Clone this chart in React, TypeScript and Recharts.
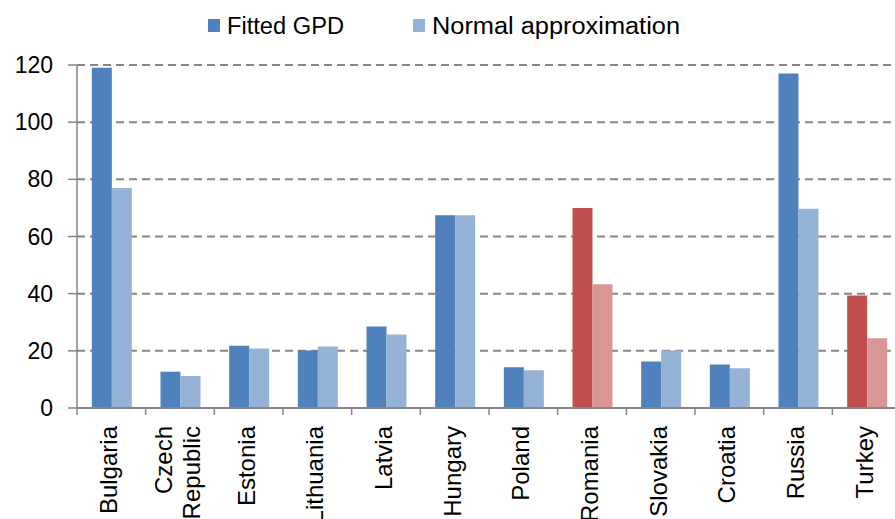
import { BarChart, Bar, XAxis, YAxis, CartesianGrid, Legend, Cell } from 'recharts';

const countries = [
  'Bulgaria', 'Czech Republic', 'Estonia', 'Lithuania', 'Latvia', 'Hungary',
  'Poland', 'Romania', 'Slovakia', 'Croatia', 'Russia', 'Turkey',
];
const fittedGpd = [119, 12.7, 21.8, 20.1, 28.5, 67.4, 14.3, 70, 16.3, 15.2, 117, 39.4];
const normalApprox = [77, 11.2, 20.8, 21.5, 25.7, 67.4, 13.2, 43.3, 20.1, 13.9, 69.7, 24.4];
const highlighted = ['Romania', 'Turkey'];
const yTicks = [0, 20, 40, 60, 80, 100, 120];

const COLORS = {
  fitted: '#4f81bd',
  normal: '#95b3d7',
  fittedHi: '#c0504d',
  normalHi: '#d99694',
  axis: '#868686',
};

const FONT = '"Liberation Sans", Arial, sans-serif';
const CHART_W = 905;
const CHART_H = 519;
const Y_AXIS_W = 77;
const MARGIN = { top: 21, right: 4, left: 0, bottom: 0 };
const BAND = (CHART_W - Y_AXIS_W - MARGIN.right) / countries.length;

const data = countries.map((c, i) => ({
  country: c,
  fitted: fittedGpd[i],
  normal: normalApprox[i],
}));

// category labels are rotated; tick marks sit on the category boundaries
function CountryTick(props: any) {
  const { x, y, payload } = props;
  const lines = String(payload.value).split(' ');
  const top = y + 18;
  return (
    <g>
      <line x1={x - BAND / 2} x2={x - BAND / 2} y1={y} y2={y + 7} stroke={COLORS.axis} strokeWidth={1.5} />
      {lines.map((ln, i) => {
        const bx = x + 6 + (i - (lines.length - 1) / 2) * 28;
        return (
          <text
            key={ln}
            x={bx}
            y={top}
            transform={`rotate(-90 ${bx} ${top})`}
            textAnchor="end"
            fontSize={24}
            fontFamily={FONT}
            fill="#000"
          >
            {ln}
          </text>
        );
      })}
    </g>
  );
}

function ChartLegend() {
  const items = [
    { label: 'Fitted GPD', color: COLORS.fitted, x: 208, len: 117 },
    { label: 'Normal approximation', color: COLORS.normal, x: 413, len: 248 },
  ];
  return (
    <svg width={CHART_W} height={44} style={{ display: 'block' }}>
      {items.map((it) => (
        <g key={it.label}>
          <rect x={it.x} y={19} width={12} height={13} fill={it.color} />
          <text
            x={it.x + 19}
            y={34}
            fontSize={23}
            fontFamily={FONT}
            fill="#000"
            textLength={it.len}
            lengthAdjust="spacingAndGlyphs"
          >
            {it.label}
          </text>
        </g>
      ))}
    </svg>
  );
}

export default function App() {
  return (
    <div style={{ position: 'absolute', left: 0, top: 0, width: 895, height: 519, overflow: 'hidden', background: '#fff' }}>
      <BarChart
        width={CHART_W}
        height={CHART_H}
        data={data}
        margin={MARGIN}
        barGap={0}
        barCategoryGap="21.6%"
      >
        <CartesianGrid vertical={false} stroke={COLORS.axis} strokeDasharray="8 5" strokeWidth={2} />
        <XAxis
          dataKey="country"
          interval={0}
          height={111}
          tickLine={false}
          tickSize={0}
          tickMargin={0}
          axisLine={{ stroke: COLORS.axis, strokeWidth: 2 }}
          tick={<CountryTick />}
        />
        <YAxis
          domain={[0, 120]}
          ticks={yTicks}
          width={Y_AXIS_W}
          tickSize={9}
          tickMargin={15}
          axisLine={{ stroke: COLORS.axis, strokeWidth: 1.5 }}
          tickLine={{ stroke: COLORS.axis, strokeWidth: 1.5 }}
          tick={{ fill: '#000', fontSize: 23, fontFamily: FONT }}
        />
        <Legend verticalAlign="top" align="left" content={<ChartLegend />} wrapperStyle={{ left: 0, top: 0 }} />
        <Bar dataKey="fitted" name="Fitted GPD" fill={COLORS.fitted} isAnimationActive={false}>
          {data.map((d) => (
            <Cell key={d.country} fill={highlighted.includes(d.country) ? COLORS.fittedHi : COLORS.fitted} />
          ))}
        </Bar>
        <Bar dataKey="normal" name="Normal approximation" fill={COLORS.normal} isAnimationActive={false}>
          {data.map((d) => (
            <Cell key={d.country} fill={highlighted.includes(d.country) ? COLORS.normalHi : COLORS.normal} />
          ))}
        </Bar>
      </BarChart>
    </div>
  );
}
